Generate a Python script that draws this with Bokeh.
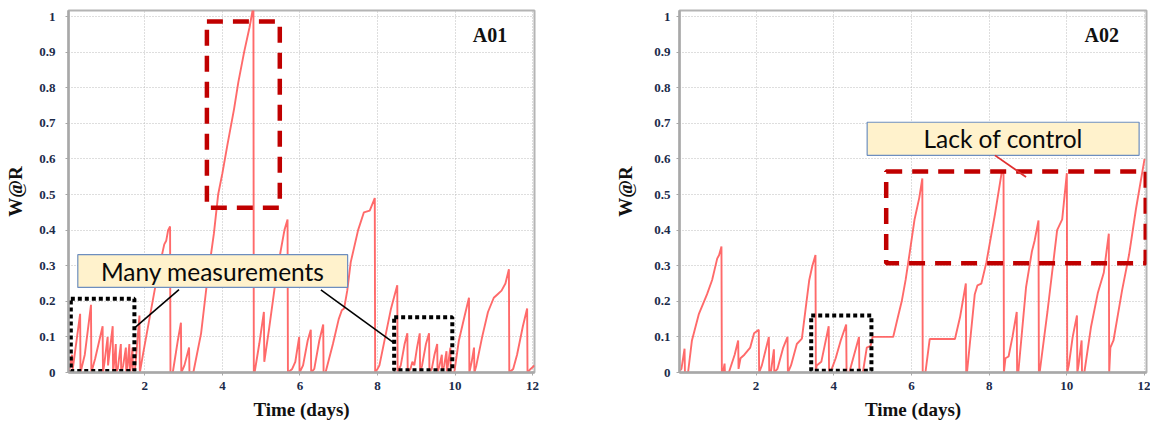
from bokeh.plotting import figure
from bokeh.layouts import row
from bokeh.models import Range1d, FixedTicker, Label
from bokeh.embed import file_html
from bokeh.resources import INLINE

# ---------------- data ----------------
x_ticks = [2, 4, 6, 8, 10, 12]
y_ticks = [0, 0.1, 0.2, 0.3, 0.4, 0.5, 0.6, 0.7, 0.8, 0.9, 1]
y_tick_labels = ["0", "0.1", "0.2", "0.3", "0.4", "0.5", "0.6", "0.7", "0.8", "0.9", "1"]

a01_t = [0.04, 0.12, 0.14, 0.33, 0.34, 0.45, 0.61, 0.62, 0.72, 0.91, 0.92,
         0.96, 1.04, 1.05, 1.17, 1.18, 1.2, 1.25, 1.26, 1.3, 1.38, 1.39,
         1.44, 1.51, 1.52, 1.55, 1.6, 1.61, 1.64, 1.68, 1.69,
         1.74, 1.86, 1.87, 1.95, 2.1, 2.25, 2.4, 2.5, 2.55, 2.6, 2.65, 2.66,
         2.72, 2.85, 2.93, 2.94, 3.02, 3.14, 3.15,
         3.25, 3.45, 3.6, 3.78, 3.89, 4.0, 4.13, 4.3, 4.41, 4.56, 4.7, 4.8, 4.81,
         4.83, 4.95, 5.07, 5.08, 5.2, 5.35, 5.5, 5.6, 5.68, 5.69,
         5.8, 5.88, 5.98, 5.99, 6.08, 6.2, 6.28, 6.29, 6.37, 6.5, 6.6, 6.61,
         6.66, 6.85, 7.0, 7.08, 7.14, 7.22, 7.31, 7.5, 7.65, 7.8, 7.93, 7.94,
         8.0, 8.05, 8.2, 8.35, 8.51, 8.52,
         8.6, 8.7, 8.77, 8.78, 8.85, 8.9, 8.95, 9.02, 9.09, 9.1, 9.15, 9.25, 9.33, 9.34,
         9.4, 9.47, 9.54, 9.55, 9.6, 9.66, 9.67, 9.72, 9.78, 9.79, 9.83, 9.88, 9.89,
         9.98, 10.1, 10.25, 10.36, 10.37, 10.43, 10.49, 10.5,
         10.55, 10.7, 10.85, 11.0, 11.1, 11.2, 11.3, 11.39, 11.4,
         11.5, 11.6, 11.75, 11.86, 11.87, 11.95, 12.05]
a01_v = [0.0, 0.05, 0.01, 0.165, 0.0, 0.05, 0.19, 0.0, 0.04, 0.13, 0.0,
         0.03, 0.10, 0.02, 0.13, 0.0, 0.02, 0.08, 0.0, 0.01, 0.08, 0.0,
         0.02, 0.07, 0.0, 0.02, 0.08, 0.0, 0.02, 0.07, 0.0,
         0.0, 0.16, 0.0, 0.05, 0.14, 0.23, 0.31, 0.36, 0.37, 0.40, 0.41, 0.0,
         0.0, 0.09, 0.14, 0.0, 0.02, 0.07, 0.0,
         0.0, 0.11, 0.25, 0.39, 0.5, 0.56, 0.64, 0.74, 0.815, 0.9, 0.97, 1.03, 0.0,
         0.0, 0.08, 0.17, 0.03, 0.12, 0.24, 0.34, 0.4, 0.43, 0.0,
         0.01, 0.03, 0.10, 0.0, 0.02, 0.09, 0.12, 0.0, 0.01, 0.09, 0.135, 0.0,
         0.0, 0.08, 0.15, 0.175, 0.18, 0.23, 0.31, 0.40, 0.45, 0.455, 0.49, 0.0,
         0.01, 0.02, 0.10, 0.18, 0.245, 0.0,
         0.02, 0.08, 0.11, 0.0, 0.01, 0.03, 0.02, 0.07, 0.11, 0.0, 0.02, 0.08, 0.11, 0.0,
         0.01, 0.05, 0.08, 0.0, 0.02, 0.05, 0.0, 0.02, 0.06, 0.0, 0.03, 0.07, 0.0,
         0.0, 0.09, 0.16, 0.21, 0.0, 0.03, 0.07, 0.0,
         0.02, 0.10, 0.17, 0.21, 0.22, 0.23, 0.25, 0.29, 0.0,
         0.01, 0.05, 0.13, 0.18, 0.0, 0.01, 0.02]

a02_t = [0.0, 0.08, 0.16, 0.17, 0.25, 0.35, 0.53, 0.74, 0.87, 1.0, 1.05, 1.11, 1.12,
         1.15, 1.19, 1.2, 1.3, 1.45, 1.54, 1.55, 1.6, 1.7, 1.85, 1.95, 2.07, 2.08,
         2.15, 2.33, 2.34, 2.38, 2.46, 2.47, 2.55, 2.7, 2.81, 2.82,
         2.9, 3.05, 3.18, 3.3, 3.37, 3.45, 3.53, 3.54,
         3.56, 3.68, 3.87, 3.88, 3.95, 4.05, 4.18, 4.32, 4.33, 4.4, 4.65, 4.66,
         4.75, 4.85, 4.95, 5.0, 5.53, 5.65, 5.75, 5.85, 5.96, 6.08, 6.2, 6.28, 6.29,
         6.36, 6.47, 7.12, 7.25, 7.4, 7.41,
         7.43, 7.63, 7.7, 7.8, 7.93, 8.15, 8.32, 8.37, 8.38,
         8.42, 8.5, 8.6, 8.71, 8.72,
         8.75, 8.95, 9.1, 9.17, 9.27, 9.28,
         9.3, 9.5, 9.75, 9.88, 10.0, 10.01,
         10.05, 10.15, 10.26, 10.27, 10.3, 10.38, 10.39,
         10.45, 10.62, 10.8, 10.95, 11.08, 11.09,
         11.12, 11.2, 11.42, 11.6, 11.78, 12.0]
a02_v = [0.0, 0.01, 0.067, 0.0, 0.0, 0.09, 0.165, 0.22, 0.26, 0.32, 0.33, 0.354, 0.0,
         0.0, 0.025, 0.0, 0.0, 0.05, 0.09, 0.01, 0.04, 0.05, 0.07, 0.11, 0.12, 0.0,
         0.02, 0.10, 0.0, 0.0, 0.065, 0.0, 0.01, 0.07, 0.10, 0.0,
         0.02, 0.08, 0.095, 0.2, 0.26, 0.30, 0.33, 0.0,
         0.02, 0.03, 0.13, 0.0, 0.01, 0.04, 0.09, 0.135, 0.0, 0.0, 0.1, 0.0,
         0.0, 0.07, 0.075, 0.1, 0.1, 0.155, 0.2, 0.26, 0.34, 0.43, 0.49, 0.545, 0.0,
         0.0, 0.094, 0.094, 0.155, 0.25, 0.0,
         0.0, 0.22, 0.245, 0.25, 0.31, 0.445, 0.56, 0.565, 0.0,
         0.04, 0.045, 0.1, 0.17, 0.0,
         0.0, 0.24, 0.34, 0.37, 0.427, 0.0,
         0.0, 0.17, 0.40, 0.43, 0.56, 0.0,
         0.02, 0.1, 0.16, 0.0, 0.02, 0.09, 0.0,
         0.0, 0.127, 0.225, 0.28, 0.39, 0.0,
         0.07, 0.09, 0.23, 0.33, 0.46, 0.6]

# ---------------- styling helpers ----------------
SERIF = "Liberation Serif"
LINE_COLOR = "#ff5a5a"
DARK_RED = "#c00000"
TICK_COLOR = "#1c2b4a"


def make_panel(name, t, v, width, border_left, border_right, lab_standoff, title_standoff):
    p = figure(width=width, height=422, output_backend="svg", toolbar_location=None,
               x_range=Range1d(0.03, 12.05), y_range=Range1d(0, 1.017),
               min_border_left=border_left, min_border_right=border_right,
               min_border_top=10, min_border_bottom=50,
               background_fill_color="white", border_fill_color="white")
    p.outline_line_color = "#b4b4b4"
    p.outline_line_width = 2

    p.xaxis.ticker = FixedTicker(ticks=x_ticks)
    p.yaxis.ticker = FixedTicker(ticks=y_ticks)
    p.yaxis.major_label_overrides = {k: s for k, s in zip(y_ticks, y_tick_labels)}

    for ax in (p.xaxis[0], p.yaxis[0]):
        ax.axis_line_color = "#a8a8a8"
        ax.axis_line_width = 2.5
        ax.major_tick_line_color = "#a8a8a8"
        ax.major_tick_out = 3
        ax.major_tick_in = 0
        ax.minor_tick_line_color = None
        ax.major_label_text_font = SERIF
        ax.major_label_text_font_style = "bold"
        ax.major_label_text_font_size = "13px"
        ax.major_label_text_color = TICK_COLOR
        ax.axis_label_text_font = SERIF
        ax.axis_label_text_font_style = "bold"
        ax.axis_label_text_font_size = "19px"
        ax.axis_label_text_color = "#111111"

    p.xaxis.axis_label = "Time (days)"
    p.yaxis.axis_label = "W@R"
    p.xaxis.major_label_standoff = 6
    p.xaxis.axis_label_standoff = 6
    p.yaxis.major_label_standoff = lab_standoff
    p.yaxis.axis_label_standoff = title_standoff

    p.xgrid.grid_line_color = "#bdbdbd"
    p.ygrid.grid_line_color = "#bdbdbd"
    p.xgrid.grid_line_dash = "1 2"
    p.ygrid.grid_line_dash = "1 2"

    p.line(t, v, line_color=LINE_COLOR, line_width=1.9, line_alpha=0.9)

    p.add_layout(Label(x=10.9, y=0.949, text=name, text_font=SERIF,
                       text_font_style="bold", text_font_size="20px",
                       text_align="center", text_baseline="middle",
                       text_color="#111111"))
    return p


def callout(p, left, right, bottom, top, text):
    p.quad(left=left, right=right, bottom=bottom, top=top,
           fill_color="#fff2cc", line_color="#6d8ebf", line_width=1.2)
    p.add_layout(Label(x=(left + right) / 2, y=(bottom + top) / 2, text=text,
                       text_font="Lato", text_font_size="24.5px",
                       text_align="center", text_baseline="middle",
                       text_color="#0a0a0a"))


# ---------------- panel A01 ----------------
p1 = make_panel("A01", a01_t, a01_v, 608, 68, 74, 10, 10)
p1.quad(left=3.6, right=5.48, bottom=0.463, top=0.986, fill_color=None,
        line_color=DARK_RED, line_width=4.5, line_dash="16 10")
p1.quad(left=0.09, right=1.73, bottom=0.004, top=0.207, fill_color=None,
        line_color="#000000", line_width=4, line_dash="4 3")
p1.quad(left=8.43, right=9.93, bottom=0.006, top=0.155, fill_color=None,
        line_color="#000000", line_width=4, line_dash="4 3")
callout(p1, 0.27, 7.23, 0.239, 0.331, "Many measurements")
p1.segment(x0=[2.88, 6.54], y0=[0.233, 0.232], x1=[1.72, 8.44], y1=[0.124, 0.082],
           line_color="#000000", line_width=1.6)

# ---------------- panel A02 ----------------
p2 = make_panel("A02", a02_t, a02_v, 542, 71, 4, 6, 15)
p2.quad(left=3.42, right=4.97, bottom=0.005, top=0.16, fill_color=None,
        line_color="#000000", line_width=4, line_dash="4 3")
p2.quad(left=5.35, right=12.03, bottom=0.307, top=0.565, fill_color=None,
        line_color=DARK_RED, line_width=4.5, line_dash="16 10")
callout(p2, 4.86, 11.86, 0.61, 0.703, "Lack of control")
p2.segment(x0=[8.15], y0=[0.61], x1=[8.95], y1=[0.549],
           line_color="#e03030", line_width=1.8)

layout = row(p1, p2)
open("out.html", "w").write(file_html(layout, INLINE))
